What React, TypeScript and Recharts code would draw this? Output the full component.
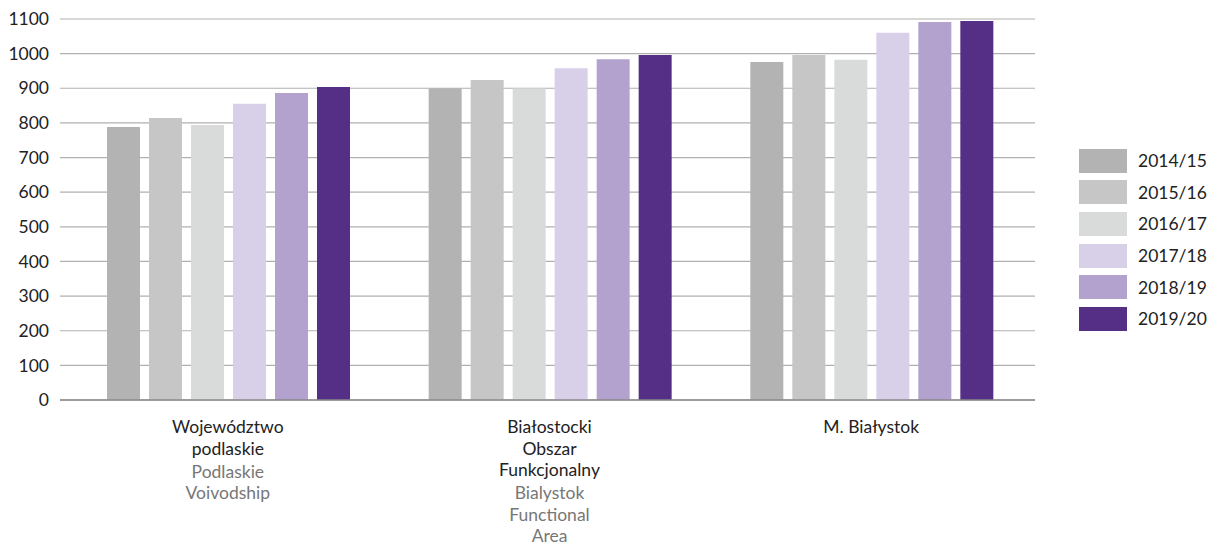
import { Bar, BarChart, CartesianGrid, XAxis, YAxis } from 'recharts'

const SEASONS = ['2014/15', '2015/16', '2016/17', '2017/18', '2018/19', '2019/20']
const SEASON_COLORS = ['#b2b3b2', '#c5c6c5', '#d9dbda', '#d8d0e8', '#b3a2ce', '#552f85']

const REGION_PL = [['Województwo', 'podlaskie'], ['Białostocki', 'Obszar', 'Funkcjonalny'], ['M. Białystok']]
const REGION_EN = [['Podlaskie', 'Voivodship'], ['Bialystok', 'Functional', 'Area'], []]

const V_2014 = [788, 900, 976]
const V_2015 = [814, 924, 996]
const V_2016 = [794, 899, 982]
const V_2017 = [855, 958, 1060]
const V_2018 = [886, 984, 1091]
const V_2019 = [904, 996, 1094]

const Y_TICKS = [0, 100, 200, 300, 400, 500, 600, 700, 800, 900, 1000, 1100]

const FONT = 'Lato, "Noto Sans", sans-serif'

const series = [V_2014, V_2015, V_2016, V_2017, V_2018, V_2019]
const rows = REGION_PL.map((_, i) => {
  const row: Record<string, number | string> = { region: String(i) }
  SEASONS.forEach((s, k) => {
    row[s] = series[k][i]
  })
  return row
})

// two-language category label: Polish dark, English grey underneath
function RegionTick(props: any) {
  const { x, y, payload } = props
  const i = Number(payload.value)
  const pl = REGION_PL[i]
  const en = REGION_EN[i]
  return (
    <g transform={`translate(${x},${y})`}>
      {pl.map((t, k) => (
        <text key={'pl' + k} x={0} y={25 + k * 21.5} textAnchor="middle" fill="#222" fontSize={17.5} fontFamily={FONT}>
          {t}
        </text>
      ))}
      {en.map((t, k) => (
        <text
          key={'en' + k}
          x={0}
          y={25 + (pl.length - 1) * 21.5 + 23 + k * 21.5}
          textAnchor="middle"
          fill="#777"
          fontSize={17.5}
          fontFamily={FONT}
        >
          {t}
        </text>
      ))}
    </g>
  )
}

function SeasonLegend() {
  return (
    <div
      style={{
        position: 'absolute',
        left: 1079,
        top: 145,
        fontFamily: FONT,
        fontSize: 17.5,
        color: '#222',
        whiteSpace: 'nowrap',
      }}
    >
      {SEASONS.map((s, k) => (
        <div key={s} style={{ display: 'flex', alignItems: 'center', height: 31.6 }}>
          <div style={{ width: 48, height: 24, background: SEASON_COLORS[k], marginRight: 11 }} />
          <span>{s}</span>
        </div>
      ))}
    </div>
  )
}

export default function App() {
  return (
    <div style={{ position: 'absolute', left: 0, top: 0, width: 1209, height: 544, overflow: 'hidden' }}>
      <BarChart
        width={1209}
        height={544}
        data={rows}
        margin={{ top: 19, right: 174, bottom: 4, left: 0 }}
        barCategoryGap={40}
        barGap={9}
      >
        <CartesianGrid vertical={false} stroke="#b0b0b0" strokeWidth={1.2} />
        <XAxis
          dataKey="region"
          height={140}
          tickLine={false}
          axisLine={{ stroke: '#888', strokeWidth: 1.5 }}
          tick={<RegionTick />}
          interval={0}
          padding={{ left: 7, right: 3 }}
        />
        <YAxis
          width={60}
          domain={[0, 1100]}
          ticks={Y_TICKS}
          interval={0}
          tickLine={false}
          axisLine={false}
          tickMargin={5}
          tick={{ fill: '#222', fontSize: 17.5, fontFamily: FONT }}
        />
        {SEASONS.map((s, k) => (
          <Bar key={s} dataKey={s} fill={SEASON_COLORS[k]} isAnimationActive={false} />
        ))}
      </BarChart>
      <SeasonLegend />
    </div>
  )
}
